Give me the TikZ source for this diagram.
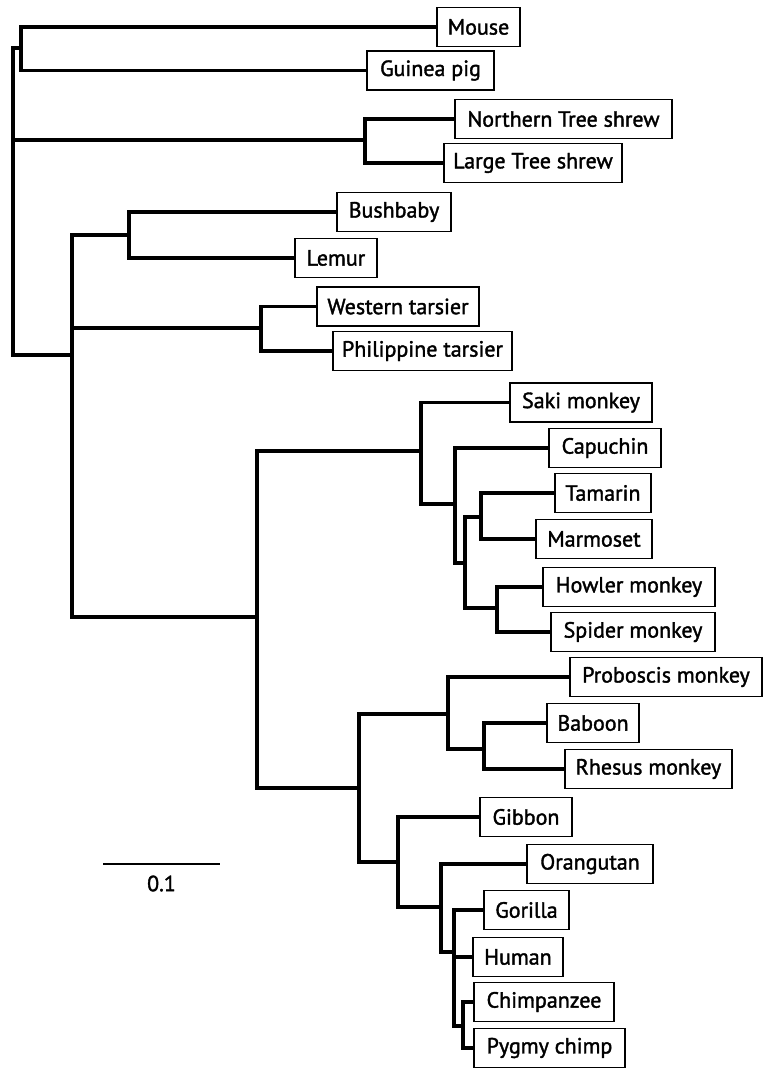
\documentclass[tikz,border=0pt]{standalone}
\usepackage{fontspec}
\setmainfont{PT Sans}
\newfontfamily\taxonfont{PT Sans}[FakeBold=1.6]
\begin{document}
\begin{tikzpicture}[x=1pt,y=-1pt,
  taxon/.style={draw, line width=1.9pt, fill=white, anchor=west,
    inner sep=0pt, outer sep=0pt, minimum height=39pt,
    font=\taxonfont\fontsize{22}{22}\selectfont},
  branch/.style={line width=3.7pt, line cap=butt, line join=miter}]
\useasboundingbox (0,0) rectangle (767,1077);

% ---- leaf labels ----
\node[taxon, minimum width=83pt]  (mouse)  at (437,27)  {Mouse};
\node[taxon, minimum width=127pt] (guinea) at (367,70.5) {Guinea pig};
\node[taxon, minimum width=217pt] (ntree)  at (455,119) {Northern Tree shrew};
\node[taxon, minimum width=178pt] (ltree)  at (444,163) {Large Tree shrew};
\node[taxon, minimum width=114pt] (bush)   at (337,212) {Bushbaby};
\node[taxon, minimum width=82pt]  (lemur)  at (295,258) {Lemur};
\node[taxon, minimum width=162pt] (wtars)  at (317,306.5) {Western tarsier};
\node[taxon, minimum width=179pt] (ptars)  at (333,351) {Philippine tarsier};
\node[taxon, minimum width=142pt] (saki)   at (510,402.5) {Saki monkey};
\node[taxon, minimum width=112pt] (capu)   at (549,448) {Capuchin};
\node[taxon, minimum width=96pt]  (tama)   at (555,493) {Tamarin};
\node[taxon, minimum width=116pt] (marm)   at (536,539) {Marmoset};
\node[taxon, minimum width=172pt] (howl)   at (543,587) {Howler monkey};
\node[taxon, minimum width=164pt] (spid)   at (551,632) {Spider monkey};
\node[taxon, minimum width=192pt] (prob)   at (570,677) {Proboscis monkey};
\node[taxon, minimum width=92pt]  (babo)   at (547,723) {Baboon};
\node[taxon, minimum width=167pt] (rhes)   at (565,769) {Rhesus monkey};
\node[taxon, minimum width=92pt]  (gibb)   at (480,817) {Gibbon};
\node[taxon, minimum width=126pt] (oran)   at (527,864) {Orangutan};
\node[taxon, minimum width=85pt]  (gori)   at (484,910) {Gorilla};
\node[taxon, minimum width=90pt]  (huma)   at (473,957) {Human};
\node[taxon, minimum width=140pt] (chim)   at (474,1002) {Chimpanzee};
\node[taxon, minimum width=151pt] (pygm)   at (474,1048) {Pygmy chimp};

% ---- internal nodes (x of the vertical bar, y where the stem joins) ----
\coordinate (root)   at (13,200);
\coordinate (rod)    at (21,48);
\coordinate (shrew)  at (365,140);
\coordinate (prim)   at (72,355);
\coordinate (strep)  at (129,235);
\coordinate (tars)   at (261,328);
\coordinate (anth)   at (257,617);
\coordinate (nwm)    at (421,451);
\coordinate (nwa)    at (455,504);
\coordinate (nwb)    at (465,563);
\coordinate (callit) at (481,517);
\coordinate (atel)   at (497,608);
\coordinate (cat)    at (359,788);
\coordinate (owm)    at (448,714);
\coordinate (papio)  at (484,749);
\coordinate (hom)    at (398,862);
\coordinate (great)  at (441,907);
\coordinate (afr)    at (454,952);
\coordinate (pan)    at (463,1026);

% ---- branches ----
\draw[branch] (root) |- (rod);
\draw[branch] (root) |- (shrew);
\draw[branch] (root) |- (prim);
\draw[branch] (rod) |- (mouse.west);
\draw[branch] (rod) |- (guinea.west);
\draw[branch] (shrew) |- (ntree.west);
\draw[branch] (shrew) |- (ltree.west);
\draw[branch] (prim) |- (strep);
\draw[branch] (prim) |- (tars);
\draw[branch] (prim) |- (anth);
\draw[branch] (strep) |- (bush.west);
\draw[branch] (strep) |- (lemur.west);
\draw[branch] (tars) |- (wtars.west);
\draw[branch] (tars) |- (ptars.west);
\draw[branch] (anth) |- (nwm);
\draw[branch] (anth) |- (cat);
\draw[branch] (nwm) |- (saki.west);
\draw[branch] (nwm) |- (nwa);
\draw[branch] (nwa) |- (capu.west);
\draw[branch] (nwa) |- (nwb);
\draw[branch] (nwb) |- (callit);
\draw[branch] (nwb) |- (atel);
\draw[branch] (callit) |- (tama.west);
\draw[branch] (callit) |- (marm.west);
\draw[branch] (atel) |- (howl.west);
\draw[branch] (atel) |- (spid.west);
\draw[branch] (cat) |- (owm);
\draw[branch] (cat) |- (hom);
\draw[branch] (owm) |- (prob.west);
\draw[branch] (owm) |- (papio);
\draw[branch] (papio) |- (babo.west);
\draw[branch] (papio) |- (rhes.west);
\draw[branch] (hom) |- (gibb.west);
\draw[branch] (hom) |- (great);
\draw[branch] (great) |- (oran.west);
\draw[branch] (great) |- (afr);
\draw[branch] (afr) |- (gori.west);
\draw[branch] (afr) |- (huma.west);
\draw[branch] (afr) |- (pan);
\draw[branch] (pan) |- (chim.west);
\draw[branch] (pan) |- (pygm.west);

% ---- scale bar ----
\coordinate (sbl) at (103,864);
\coordinate (sbr) at (220,864);
\draw[line width=2.2pt] (sbl) -- (sbr);
\node[font=\taxonfont\fontsize{22}{22}\selectfont, anchor=north] (sblab) at (161.5,872) {0.1};
\end{tikzpicture}
\end{document}
